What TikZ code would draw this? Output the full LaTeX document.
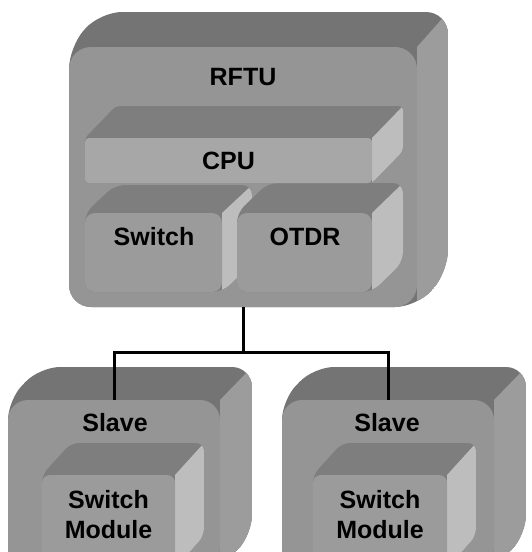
\documentclass[tikz,border=0pt]{standalone}
\usepackage{fontspec}
\setmainfont{Liberation Sans}

\definecolor{shelltop}{HTML}{747474}
\definecolor{shellfront}{HTML}{959595}
\definecolor{shellside}{HTML}{9C9C9C}
\definecolor{parttop}{HTML}{7E7E7E}
\definecolor{partfront}{HTML}{9B9B9B}
\definecolor{cpufront}{HTML}{A7A7A7}
\definecolor{partside}{HTML}{BDBDBD}

% extruded body behind a front face: x1 y1 x2 y2 dx dy radius topcolour sidecolour
\newcommand{\blockbody}[9]{%
  \begin{scope}
    \clip[rounded corners=#7] (#1,#4) -- (#1,#2) -- ({#1+#5},{#2+#6}) -- ({#3+#5},{#2+#6}) -- ({#3+#5},{#4+#6}) -- (#3,#4) -- cycle;
    \fill[#8] (#1,#4) -- (#1,#2) -- ({#1+#5},{#2+#6}) -- ({#3+#5},{#2+#6}) -- ({#3+#5},{#4+#6}) -- (#3,#4) -- cycle;
    \fill[#9] (#3,#2) -- ({#3+#5},{#2+#6}) -- ({#3+#5},{#4+#6}) -- (#3,#4) -- cycle;
  \end{scope}}

\tikzset{
  face/.style={inner sep=0pt, outer sep=0pt},
  lbl/.style={font=\bfseries\fontsize{25}{30}\selectfont, inner sep=0pt, align=center},
  wire/.style={line width=3pt}
}

\begin{document}
\begin{tikzpicture}[x=1pt, y=-1pt]
    \useasboundingbox (0, 0) rectangle (532, 552);
    \clip (0, 0) rectangle (532, 552);

    % RFTU
    \blockbody{69}{47}{417}{307}{31}{-35}{22}{shelltop}{shellside}
    \node[face, fill=shellfront, rounded corners=22, minimum width=348, minimum height=260] (rftu) at (243, 177) {};
    \node[lbl] (rftulbl) at (243, 77) {RFTU};

    \blockbody{85}{213}{222}{292}{30}{-28}{10}{parttop}{partside}
    \node[face, fill=partfront, rounded corners=10, minimum width=137, minimum height=79] (switch) at (153.5, 252.5) {};
    \node[lbl] (switchlbl) at (154, 237) {Switch};

    \blockbody{237}{213}{372}{292}{31}{-30}{10}{parttop}{partside}
    \node[face, fill=partfront, rounded corners=10, minimum width=135, minimum height=79] (otdr) at (304.5, 252.5) {};
    \node[lbl] (otdrlbl) at (305, 237) {OTDR};

    \blockbody{85}{138}{372}{183}{31}{-32}{4}{parttop}{partside}
    \node[face, fill=cpufront, rounded corners=4, minimum width=287, minimum height=45] (cpu) at (228.5, 160.5) {};
    \node[lbl] (cpulbl) at (228.5, 160.5) {CPU};

    % slaves
    \blockbody{8}{400}{220}{568}{32}{-33}{20}{shelltop}{shellside}
    \node[face, fill=shellfront, rounded corners=20, minimum width=212, minimum height=168] (slavel) at (114, 484) {};
    \node[lbl] (slavellbl) at (115, 423) {Slave};
    \blockbody{42}{475}{175}{568}{29}{-32}{8}{parttop}{partside}
    \node[face, fill=partfront, rounded corners=8, minimum width=133, minimum height=93] (modl) at (108.5, 521.5) {};
    \node[lbl] (modllbl) at (108.5, 515) {Switch\\Module};

    \blockbody{282}{400}{494}{568}{32}{-33}{20}{shelltop}{shellside}
    \node[face, fill=shellfront, rounded corners=20, minimum width=212, minimum height=168] (slaver) at (388, 484) {};
    \node[lbl] (slaverlbl) at (387, 423) {Slave};
    \blockbody{313}{475}{447}{568}{29}{-32}{8}{parttop}{partside}
    \node[face, fill=partfront, rounded corners=8, minimum width=134, minimum height=93] (modr) at (380, 521.5) {};
    \node[lbl] (modrlbl) at (380, 515) {Switch\\Module};

    \draw[wire] (rftu.south) -- ++(0, 45) coordinate (hub) -| (slavel.north);
    \draw[wire] (hub) -| (slaver.north);
\end{tikzpicture}
\end{document}
